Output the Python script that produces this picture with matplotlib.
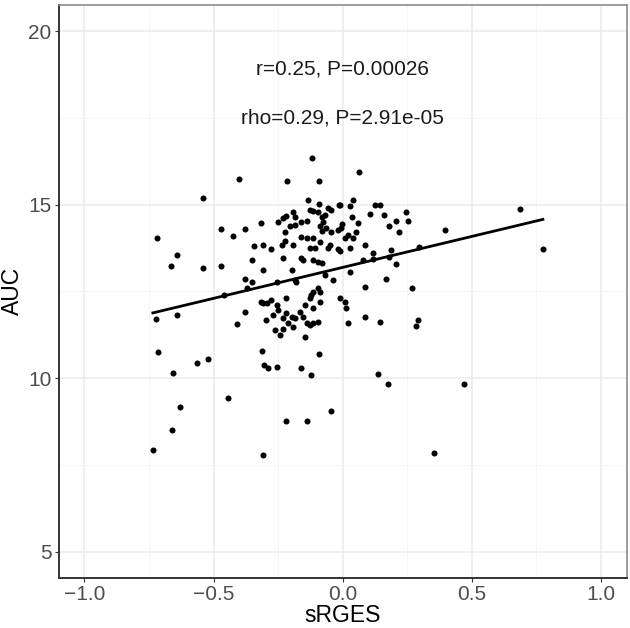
import numpy as np
import matplotlib
matplotlib.use("Agg")
import matplotlib.pyplot as plt
from matplotlib.ticker import MultipleLocator

plt.rcParams["font.family"] = ["Liberation Sans", "DejaVu Sans"]

# sRGES (x) and AUC (y) values
srges = [
    # left side
    -0.40, -0.54, -0.72, -0.47, -0.425, -0.64, -0.665, -0.54, -0.47, -0.46,
    -0.723, -0.64, -0.41, -0.715, -0.565, -0.52, -0.657, -0.445, -0.63, -0.66,
    -0.735, -0.38, -0.317, -0.344, -0.31, -0.352, -0.31, -0.38, -0.35, -0.38,
    -0.317, -0.298, -0.313, -0.305, -0.31, -0.37,
    # middle, top
    -0.12, -0.217, -0.093, 0.062, -0.135, -0.093, -0.015, 0.039, 0.027, 0.124,
    0.146, 0.104, 0.159,
    -0.250, -0.233, -0.220, -0.192, -0.186, -0.160, -0.140, -0.128, -0.115, -0.095,
    -0.082, -0.070, -0.076, -0.057, -0.044, -0.012, 0.034, 0.059, -0.001,
    -0.224, -0.205, -0.186, -0.160, -0.140, -0.115, -0.089, -0.082, -0.063, -0.044,
    -0.018, -0.005, 0.008, 0.021, 0.040, 0.053,
    -0.276, -0.237, -0.224, -0.192, -0.128, -0.108, -0.089, -0.057, -0.050, -0.018,
    -0.012, 0.027, 0.085,
    # middle, around the line
    -0.231, -0.160, -0.153, -0.115, -0.095, -0.082, -0.070, -0.037, 0.027, 0.079,
    0.117, 0.117, -0.198, -0.186, -0.179, -0.256, 0.085,
    # middle, lower cluster
    -0.308, -0.295, -0.276, -0.256, -0.250, -0.218, -0.218, -0.198, -0.186, -0.166,
    -0.147, -0.128, -0.121, -0.115, -0.095, -0.089, -0.089, -0.115, -0.012, 0.008,
    0.014, 0.021, 0.085, 0.143, -0.269, -0.231, -0.211, -0.192, -0.153, -0.140,
    -0.128, -0.115, -0.095, -0.263, -0.244, -0.233, -0.147,
    -0.289, -0.256, -0.160, -0.121, -0.092, 0.135,
    -0.218, -0.140, -0.044,
    # right side
    0.179, 0.205, 0.218, 0.244, 0.253, 0.397, 0.687, 0.775, 0.188, 0.179,
    0.295, 0.205, 0.166, 0.269, 0.291, 0.282, 0.175, 0.469, 0.353,
]
auc = [
    15.75, 15.2, 14.05, 14.3, 14.1, 13.56, 13.24, 13.16, 13.24, 12.4,
    11.71, 11.83, 11.57, 10.76, 10.45, 10.56, 10.16, 9.44, 9.18, 8.52,
    7.94, 14.3, 14.48, 13.82, 13.85, 13.39, 13.13, 12.87, 12.76, 11.92,
    12.2, 11.69, 10.79, 10.39, 7.8, 12.6,
    16.33, 15.69, 15.69, 15.95, 15.14, 15.03, 15.0, 15.14, 14.97, 15.0,
    15.0, 14.74, 14.71,
    14.51, 14.61, 14.68, 14.78, 14.65, 14.51, 14.53, 14.85, 14.82, 14.80,
    14.65, 14.70, 14.51, 14.89, 14.85, 14.99, 14.65, 14.46, 14.43,
    14.22, 14.37, 14.41, 14.08, 14.03, 14.03, 14.37, 14.24, 14.32, 14.20,
    14.27, 14.34, 14.03, 14.13, 14.03, 14.20,
    13.72, 13.84, 13.95, 13.84, 13.76, 13.76, 13.93, 13.74, 13.84, 13.71,
    13.65, 13.74, 13.84,
    13.45, 13.45, 13.39, 13.40, 13.36, 13.31, 12.97, 12.83, 13.07, 13.40,
    13.60, 13.44, 13.12, 12.83, 12.78, 12.78, 12.62,
    12.16, 12.16, 12.25, 12.11, 11.96, 12.30, 11.87, 11.77, 11.72, 11.92,
    12.11, 12.30, 12.40, 12.49, 12.59, 12.49, 12.20, 12.01, 12.30, 12.20,
    12.01, 11.58, 11.75, 11.63, 11.82, 11.72, 11.58, 11.48, 11.77, 11.58,
    11.53, 11.58, 11.63, 11.39, 11.24, 11.42, 11.18,
    10.30, 10.33, 10.30, 10.09, 10.70, 10.12,
    8.78, 8.78, 9.05,
    14.39, 14.53, 14.22, 14.78, 14.53, 14.27, 14.88, 13.72, 13.69, 13.50,
    13.77, 13.28, 12.85, 12.59, 11.68, 11.51, 9.82, 9.82, 7.83,
]

stat_lines = ["r=0.25, P=0.00026", "rho=0.29, P=2.91e-05"]

x = np.array(srges)
y = np.array(auc)

fig = plt.figure(figsize=(6.3, 6.28), dpi=100)
ax = fig.add_axes([0.093, 0.080, 0.902, 0.912])

# grid like theme_bw
ax.set_axisbelow(True)
ax.xaxis.set_major_locator(MultipleLocator(0.5))
ax.xaxis.set_minor_locator(MultipleLocator(0.25))
ax.yaxis.set_major_locator(MultipleLocator(5))
ax.yaxis.set_minor_locator(MultipleLocator(2.5))
ax.grid(which="major", color="#ebebeb", linewidth=1.1)
ax.grid(which="minor", color="#f4f4f4", linewidth=0.6)

ax.scatter(x, y, s=19, color="black", zorder=3, linewidths=0)

# linear fit
b, a = np.polyfit(x, y, 1)
xs = np.array([x.min(), x.max()])
ax.plot(xs, a + b * xs, color="black", linewidth=2.0, zorder=4)

ax.text(0.0, 18.9, stat_lines[0], ha="center", va="center", fontsize=15, color="#1a1a1a")
ax.text(0.0, 17.5, stat_lines[1], ha="center", va="center", fontsize=15, color="#1a1a1a")

ax.set_xlim(-1.1, 1.1)
ax.set_ylim(4.25, 20.75)
ax.set_xticks([-1.0, -0.5, 0.0, 0.5, 1.0])
ax.set_xticklabels(["−1.0", "−0.5", "0.0", "0.5", "1.0"])

for side in ["top", "right"]:
    ax.spines[side].set_color("#8c8c8c")
    ax.spines[side].set_linewidth(1.2)
for side in ["left", "bottom"]:
    ax.spines[side].set_color("#333333")
    ax.spines[side].set_linewidth(1.4)

ax.tick_params(which="major", length=3, width=0.8, color="#333333",
               labelsize=15, labelcolor="#4d4d4d", pad=2)
ax.tick_params(which="minor", length=0)

ax.set_xlabel("sRGES", fontsize=16.5, labelpad=0)
ax.set_ylabel("AUC", fontsize=16.5, labelpad=3)

fig.savefig("out.png", dpi=100)
